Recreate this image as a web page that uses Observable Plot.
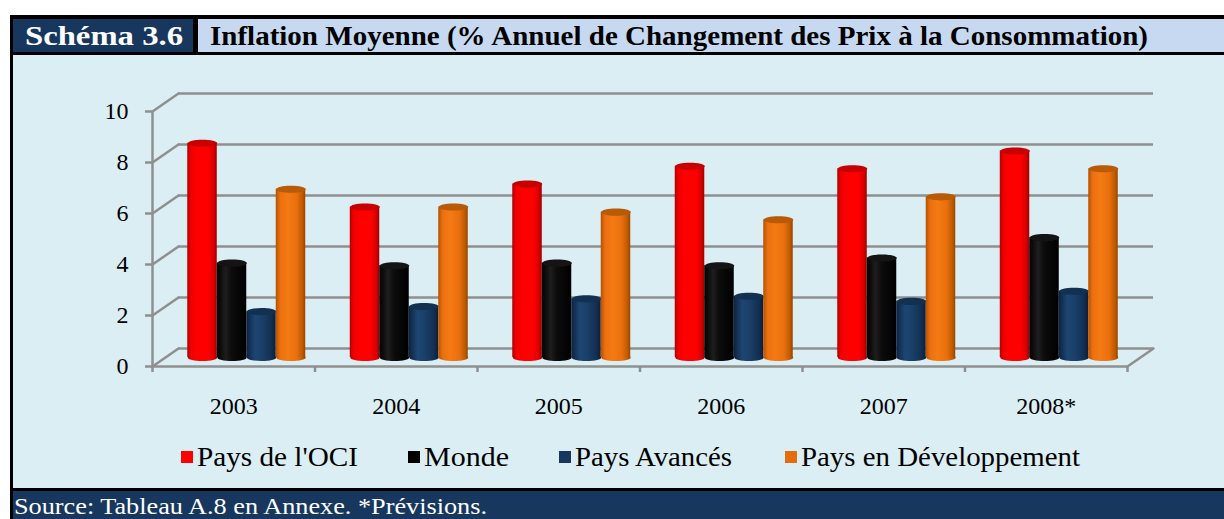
<!DOCTYPE html>
<html>
<head>
<meta charset="utf-8">
<script src="https://cdn.jsdelivr.net/npm/d3@7"></script>
<script src="https://cdn.jsdelivr.net/npm/@observablehq/plot@0.6"></script>
<style>
  body { margin: 0; background: #fff; font-family: "Liberation Serif", serif; }
  #wrap { position: relative; width: 1224px; height: 519px; overflow: hidden; }
  .blk { position: absolute; }
  .txt { position: absolute; white-space: nowrap; transform-origin: 0 0; }
  .item { position: absolute; display: flex; align-items: center; font-size: 27px; line-height: 30px; color: #000; white-space: nowrap; }
  .item .sw { width: 12px; height: 12px; margin-right: 4px; flex: none; }
  .item span { display: inline-block; transform-origin: 0 50%; }
</style>
</head>
<body>
<div id="wrap">
  <div class="blk" style="left:10px;top:15px;width:1214px;height:504px;background:#000"></div>
  <div class="blk" style="left:13px;top:19px;width:180px;height:33px;background:#17375e"></div>
  <div class="blk" style="left:198px;top:19px;width:1026px;height:33px;background:#c6d9f1"></div>
  <div class="blk" style="left:13px;top:55px;width:1211px;height:433px;background:#dbeef4"></div>
  <div class="blk" style="left:13px;top:491px;width:1211px;height:28px;background:#17375e"></div>
  <span class="txt" id="tag" style="left:25px;top:19px;line-height:33px;font-size:28px;font-weight:bold;color:#fff">Schéma 3.6</span>
  <span class="txt" id="title" style="left:210px;top:19px;line-height:33px;font-size:28px;font-weight:bold;color:#000">Inflation Moyenne (% Annuel de Changement des Prix à la Consommation)</span>
  <div class="blk" id="chart" style="left:13px;top:55px"></div>
  <div class="blk" id="legend" style="left:0;top:442px"></div>
  <span class="txt" id="foot" style="left:14px;top:491px;line-height:32px;font-size:23px;color:#fff">Source: Tableau A.8 en Annexe. *Prévisions.</span>
</div>
<script>
// ---- data ----
const years = ["2003", "2004", "2005", "2006", "2007", "2008*"];
const seriesNames = ["Pays de l'OCI", "Monde", "Pays Avancés", "Pays en Développement"];
const oci = [8.4, 5.9, 6.8, 7.5, 7.4, 8.1];
const monde = [3.7, 3.6, 3.7, 3.6, 3.9, 4.7];
const avances = [1.8, 2.0, 2.3, 2.4, 2.2, 2.6];
const developpement = [6.6, 5.9, 5.7, 5.4, 6.3, 7.4];
const yTicks = [0, 2, 4, 6, 8, 10];
const legendColors = ["#ff0000", "#000000", "#17375e", "#e46c0a"];

// ---- layout & styles ----
const legendLeft = [181, 408, 559, 785];
const legendTextWidth = [161, 85, 157, 279];
const seriesValues = [oci, monde, avances, developpement];
const gradStops = [
  [[0, "#b00000"], [0.12, "#ee0000"], [0.35, "#ff0000"], [0.7, "#ff0000"], [0.9, "#d60000"], [1, "#9e0000"]],
  [[0, "#000000"], [0.3, "#1e1e1e"], [0.5, "#0c0c0c"], [1, "#000000"]],
  [[0, "#0d2340"], [0.3, "#1e4673"], [0.55, "#1a3f68"], [0.85, "#132f52"], [1, "#0b1f38"]],
  [[0, "#b45200"], [0.15, "#ec7010"], [0.4, "#f47a14"], [0.7, "#ea700f"], [0.9, "#c05b00"], [1, "#984400"]]
];
const topColors = ["#c80000", "#141414", "#12304f", "#b85a06"];
const grid = "#8f8f8f";
const W = 1211, H = 375;
const DX = 26, DY = -18;        // back-wall depth offset (px)
const MDX = 13, MDY = -9;       // bars sit at mid-depth
const BW = 0.1815, PAD = 0.137; // bar width & group padding, in band units
const RX = 14.75;               // cylinder radius in px

const ellipse = {
  draw(ctx, size) {
    const rx = Math.sqrt(size / Math.PI), ry = rx * 0.24, k = 0.5523;
    ctx.moveTo(rx, 0);
    ctx.bezierCurveTo(rx, ry * k, rx * k, ry, 0, ry);
    ctx.bezierCurveTo(-rx * k, ry, -rx, ry * k, -rx, 0);
    ctx.bezierCurveTo(-rx, -ry * k, -rx * k, -ry, 0, -ry);
    ctx.bezierCurveTo(rx * k, -ry, rx, -ry * k, rx, 0);
    ctx.closePath();
  }
};
const lineShape = { draw(ctx, l) { ctx.moveTo(0, 0); ctx.lineTo(0, -l); } };
const depthLen = Math.hypot(DX, DY);
const depthAngle = Math.atan2(DX, -DY) * 180 / Math.PI;

const bandIdx = years.map((d, i) => i);
const marks = [
  Plot.ruleY(yTicks, {y: d => d, dx: DX, dy: DY, stroke: grid, strokeWidth: 2.5}),
  Plot.vector(yTicks, {x: 0, y: d => d, length: depthLen, rotate: depthAngle, anchor: "start", shape: lineShape, stroke: grid, strokeWidth: 2.5}),
  Plot.vector([0], {x: years.length, y: d => d, length: depthLen, rotate: depthAngle, anchor: "start", shape: lineShape, stroke: grid, strokeWidth: 2.5}),
  Plot.ruleX([0], {y1: 0, y2: 10, stroke: grid, strokeWidth: 2.5}),
  Plot.ruleY([0], {x1: 0, x2: years.length, stroke: grid, strokeWidth: 2.5}),
  Plot.axisY({ticks: yTicks, tickSize: 7, tickPadding: 17, fontSize: 24, stroke: grid, strokeWidth: 2.5, fill: "#000", label: null}),
  Plot.axisX({ticks: bandIdx.concat([years.length]), tickSize: 6, tickFormat: () => "", stroke: grid, strokeWidth: 2.5, label: null}),
  Plot.text(years, {x: (d, i) => i + 0.5, y: 0, dy: 40, fontSize: 24, fill: "#000"})
];
seriesValues.forEach((vals, j) => {
  const rows = vals.map((v, i) => ({i, v}));
  const xc = d => d.i + PAD + (j + 0.5) * BW;
  const fill = `url(#cyl${j})`;
  marks.push(
    Plot.dot(rows, {x: xc, y: 0, r: RX, symbol: ellipse, fill, stroke: "none", dx: MDX, dy: MDY}),
    Plot.rect(rows, {x1: d => d.i + PAD + j * BW, x2: d => d.i + PAD + (j + 1) * BW, y1: 0, y2: d => d.v, fill, dx: MDX, dy: MDY}),
    Plot.dot(rows, {x: xc, y: d => d.v, r: RX, symbol: ellipse, fill: topColors[j], stroke: "none", dx: MDX, dy: MDY})
  );
});

const chart = Plot.plot({
  width: W, height: H,
  marginLeft: 139, marginRight: 97, marginTop: 56, marginBottom: 64,
  style: {background: "transparent", fontFamily: "Liberation Serif, serif", color: "#000"},
  x: {type: "linear", domain: [0, years.length]},
  y: {domain: [0, 10]},
  marks
});
const defs = d3.select(chart).insert("defs", ":first-child");
gradStops.forEach((stops, j) => {
  const g = defs.append("linearGradient").attr("id", `cyl${j}`).attr("x1", 0).attr("x2", 1).attr("y1", 0).attr("y2", 0);
  stops.forEach(([o, c]) => g.append("stop").attr("offset", o).attr("stop-color", c));
});
document.getElementById("chart").appendChild(chart);

// legend
const legend = document.getElementById("legend");
seriesNames.forEach((name, j) => {
  const item = document.createElement("div");
  item.className = "item";
  item.style.left = legendLeft[j] + "px";
  const sw = document.createElement("div");
  sw.className = "sw"; sw.style.background = legendColors[j];
  const t = document.createElement("span");
  t.textContent = name;
  item.appendChild(sw); item.appendChild(t);
  legend.appendChild(item);
  const w = t.getBoundingClientRect().width;
  t.style.transform = `scaleX(${legendTextWidth[j] / w})`;
});

// fit header/footer text widths
function fit(id, target) {
  const el = document.getElementById(id);
  const w = el.getBoundingClientRect().width;
  el.style.transform = `scaleX(${target / w})`;
}
fit("tag", 158);
fit("title", 938);
fit("foot", 473);
</script>
</body>
</html>
